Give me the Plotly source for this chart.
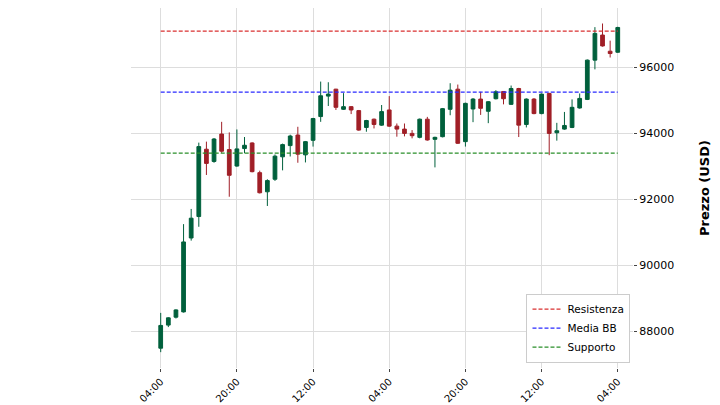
import plotly.graph_objects as go

# 4h candles, index 0..60
opens = [87480, 88180, 88420, 88580, 90820, 91470, 93510, 93140, 93970, 93500,
         93000, 93530, 93700, 92800, 92220, 92600, 93280, 93620, 93940, 93340,
         93780, 94500, 95120, 95330, 94720, 94800, 94680, 94170, 94420, 94240,
         94700, 94210, 94120, 93990, 93870, 94420, 93810, 93890, 94720, 95330,
         93740, 94730, 95030, 94660, 95040, 95260, 94870, 95350, 94260, 95030,
         94590, 95200, 94010, 94120, 94170, 94760, 95020, 96210, 96970, 96480,
         96450]
closes = [88170, 88400, 88640, 90700, 91420, 93590, 93080, 93820, 93450, 92720,
          93520, 93630, 92830, 92190, 92560, 93300, 93650, 93910, 93360, 93740,
          94440, 95130, 95180, 94780, 94800, 94700, 94090, 94380, 94260, 94650,
          94210, 94120, 93990, 93920, 94420, 93790, 93870, 94740, 95300, 93690,
          94900, 95030, 94750, 94950, 95250, 95040, 95350, 94240, 95030, 94590,
          95180, 93990, 94070, 94230, 94780, 95050, 96210, 97020, 96640, 96410,
          97200]
highs = [88550, 88420, 88660, 91240, 91700, 93710, 93740, 93850, 94340, 94020,
         94110, 93880, 93720, 92860, 92600, 93350, 93680, 93950, 94190, 93760,
         94460, 95560, 95540, 95340, 95210, 94820, 94700, 94400, 94440, 94850,
         95120, 94290, 94290, 94090, 94440, 94490, 93890, 94760, 95510, 95470,
         94920, 95060, 95250, 94970, 95300, 95270, 95440, 95370, 95050, 95060,
         95200, 95220, 94310, 94640, 95020, 95200, 96230, 97210, 97320, 96800,
         97220]
lows = [87360, 88120, 88380, 88560, 90740, 91160, 92730, 93100, 93400, 92070,
        92980, 93390, 92810, 92170, 91790, 92550, 92870, 93290, 93100, 93110,
        93590, 94340, 94820, 94700, 94700, 94575, 94070, 94040, 94140, 94220,
        94190, 93890, 93900, 93840, 93840, 93770, 92960, 93870, 94540, 93670,
        93590, 94330, 94550, 94300, 95020, 94870, 94850, 93880, 94170, 94570,
        94570, 93330, 93770, 94100, 94150, 94740, 95000, 95930, 96620, 96290,
        96430]
idx = list(range(len(opens)))

tick_pos = [0, 10, 20, 30, 40, 50, 60]
tick_text = ["04:00", "20:00", "12:00", "04:00", "20:00", "12:00", "04:00"]

resistenza = 97090
media_bb = 95240
supporto = 93390

fig = go.Figure()
fig.add_trace(go.Candlestick(
    x=idx, open=opens, high=highs, low=lows, close=closes,
    increasing=dict(line=dict(color="#00603c", width=1), fillcolor="#00603c"),
    decreasing=dict(line=dict(color="#a01f27", width=1), fillcolor="#a01f27"),
    whiskerwidth=0, showlegend=False))

for name, val, col in [("Resistenza", resistenza, "#d93030"),
                       ("Media BB", media_bb, "#2a2aff"),
                       ("Supporto", supporto, "#2a8f2a")]:
    fig.add_trace(go.Scatter(x=[idx[0], idx[-1]], y=[val, val], mode="lines",
                             name=name, line=dict(color=col, width=1.2, dash="4px,2px")))

fig.update_layout(
    width=720, height=405, plot_bgcolor="white", paper_bgcolor="white",
    margin=dict(l=123, r=95, t=0, b=45),
    font=dict(family="DejaVu Sans", size=11, color="black"),
    xaxis=dict(range=[-3.9, 62], tickvals=tick_pos, ticktext=tick_text, tickangle=-45,
               showgrid=True, gridcolor="#dddddd", zeroline=False, automargin=False,
               rangeslider=dict(visible=False), ticks="outside", ticklen=3,
               tickfont=dict(size=10)),
    yaxis=dict(range=[86880, 97790], side="right", dtick=2000, tickformat="d",
               showgrid=True, gridcolor="#dddddd", zeroline=False, automargin=False,
               ticks="outside", ticklen=3, tickfont=dict(size=11),
               title=dict(text="<b>Prezzo (USD)</b>", font=dict(size=13), standoff=26)),
    legend=dict(x=0.995, y=0.015, xanchor="right", yanchor="bottom",
                bordercolor="#cccccc", borderwidth=1, bgcolor="white",
                font=dict(size=10.5), tracegroupgap=0, itemwidth=30),
)

fig.write_html("out.html")
